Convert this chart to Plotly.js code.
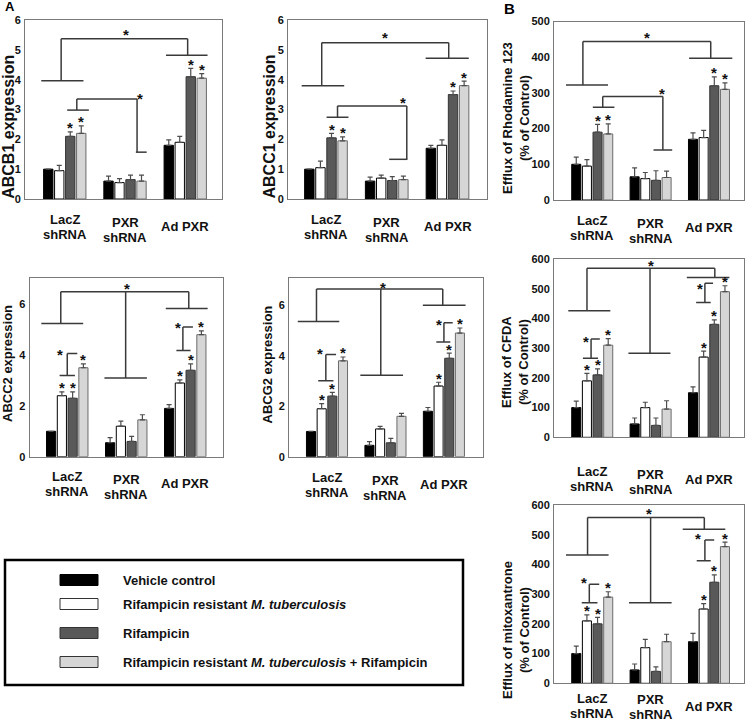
<!DOCTYPE html>
<html><head><meta charset="utf-8">
<script src="https://cdn.plot.ly/plotly-3.0.1.min.js"></script>
<style>html,body{margin:0;padding:0;background:#fff}#chart{width:745px;height:722px}</style>
</head><body><div id="chart"></div>
<script>
// ---------------- DATA ----------------
const categories = ['LacZ<br>shRNA', 'PXR<br>shRNA', 'Ad PXR'];
const seriesNames = ['Vehicle control', 'Rifampicin resistant <i>M. tuberculosis</i>', 'Rifampicin',
  'Rifampicin resistant <i>M. tuberculosis</i> + Rifampicin'];

// rows = series (vehicle, resistant Mtb, rifampicin, resistant Mtb + rifampicin), cols = categories
const abcb1Values = [[1.0, 0.6, 1.8], [0.95, 0.55, 1.9], [2.1, 0.65, 4.1], [2.2, 0.6, 4.05]];
const abcb1Errors = [[0, 0.17, 0.18], [0.18, 0.13, 0.2], [0.15, 0.15, 0.28], [0.25, 0.2, 0.15]];
const abcc1Values = [[1.0, 0.6, 1.7], [1.05, 0.7, 1.8], [2.05, 0.62, 3.5], [1.95, 0.65, 3.8]];
const abcc1Errors = [[0, 0.13, 0.1], [0.22, 0.1, 0.18], [0.15, 0.13, 0.12], [0.13, 0.12, 0.15]];
const abcc2Values = [[1.0, 0.55, 1.9], [2.4, 1.2, 2.9], [2.3, 0.6, 3.4], [3.5, 1.45, 4.8]];
const abcc2Errors = [[0, 0.2, 0.15], [0.15, 0.2, 0.12], [0.25, 0.2, 0.25], [0.15, 0.2, 0.15]];
const abcg2Values = [[1.0, 0.45, 1.8], [1.9, 1.1, 2.8], [2.4, 0.55, 3.9], [3.8, 1.6, 4.9]];
const abcg2Errors = [[0, 0.15, 0.15], [0.2, 0.1, 0.15], [0.15, 0.18, 0.2], [0.15, 0.12, 0.2]];
const rhodValues = [[100, 65, 170], [95, 60, 175], [190, 55, 320], [185, 63, 310]];
const rhodErrors = [[20, 25, 18], [18, 17, 20], [22, 27, 25], [28, 18, 18]];
const cfdaValues = [[100, 45, 150], [190, 100, 270], [210, 40, 380], [310, 95, 490]];
const cfdaErrors = [[22, 20, 20], [25, 18, 20], [20, 25, 15], [22, 28, 20]];
const mitoValues = [[100, 45, 140], [210, 120, 250], [200, 40, 340], [290, 140, 460]];
const mitoErrors = [[25, 20, 28], [20, 28, 18], [22, 15, 25], [18, 25, 15]];

// significance stars above bars: [category index, series index]
const starsTwoPairs = [[0, 2], [0, 3], [2, 2], [2, 3]];
const starsThreePairs = [[0, 1], [0, 2], [0, 3], [2, 1], [2, 2], [2, 3]];

// comparison brackets (data coordinates): top line height, drops {x, y(foot), a..b foot span}, star position
const abcb1Brackets = [
  {top: 5.37, drops: [{x: -0.06, y: 3.96, a: -0.39, b: 0.31}, {x: 2.04, y: 4.82, a: 1.68, b: 2.37}], star: [1.02, 5.6]},
  {top: 3.35, drops: [{x: 0.20, y: 2.98, a: 0.04, b: 0.40}, {x: 1.20, y: 1.57, a: 1.18, b: 1.36}], star: [1.25, 3.46]}
];
const abcc1Brackets = [
  {top: 5.24, drops: [{x: -0.07, y: 3.8, a: -0.4, b: 0.30}, {x: 2.02, y: 4.72, a: 1.64, b: 2.35}], star: [0.97, 5.52]},
  {top: 3.12, drops: [{x: 0.19, y: 2.74, a: 0.01, b: 0.37}, {x: 1.33, y: 1.33, a: 1.04, b: 1.34}], star: [1.26, 3.32]}
];
const rhodBrackets = [
  {top: 444, drops: [{x: -0.16, y: 322, a: -0.45, b: 0.27}, {x: 2.03, y: 397, a: 1.66, b: 2.40}], star: [0.93, 463]},
  {top: 290, drops: [{x: 0.18, y: 260, a: 0.01, b: 0.38}, {x: 1.21, y: 140, a: 1.05, b: 1.37}], star: [1.19, 306]}
];
const abcc2Brackets = [
  {top: 6.49, drops: [{x: -0.11, y: 5.24, a: -0.44, b: 0.27}, {x: 0.99, y: 3.10, a: 0.63, b: 1.35}, {x: 2.06, y: 5.83, a: 1.67, b: 2.38}], star: [1.01, 6.75]},
  {top: 4.06, right: 0.17, drops: [{x: 0.0, y: 3.19, a: -0.13, b: 0.13}], star: [-0.13, 4.15]},
  {top: 5.10, right: 2.13, drops: [{x: 1.96, y: 4.18, a: 1.85, b: 2.09}], star: [1.88, 5.21]}
];
const abcg2Brackets = [
  {top: 6.64, drops: [{x: -0.18, y: 5.36, a: -0.50, b: 0.21}, {x: 0.92, y: 3.23, a: 0.57, b: 1.30}, {x: 1.98, y: 6.0, a: 1.64, b: 2.37}], star: [0.95, 6.84]},
  {top: 4.05, right: 0.155, drops: [{x: -0.02, y: 3.01, a: -0.15, b: 0.11}], star: [-0.12, 4.2]},
  {top: 5.31, right: 2.15, drops: [{x: 2.0, y: 4.54, a: 1.87, b: 2.11}], star: [1.92, 5.35]}
];
const cfdaBrackets = [
  {top: 569, drops: [{x: -0.09, y: 426, a: -0.41, b: 0.31}, {x: 0.99, y: 283, a: 0.62, b: 1.34}, {x: 2.10, y: 538, a: 1.62, b: 2.35}], star: [1.0, 588]},
  {top: 331, right: 0.13, drops: [{x: -0.02, y: 266, a: -0.16, b: 0.10}], star: [-0.10, 331]},
  {top: 518, right: 2.07, drops: [{x: 1.93, y: 454, a: 1.78, b: 2.03}], star: [1.85, 512]}
];
const mitoBrackets = [
  {top: 558, drops: [{x: -0.08, y: 432, a: -0.45, b: 0.28}, {x: 1.0, y: 271, a: 0.63, b: 1.36}, {x: 1.92, y: 518, a: 1.55, b: 2.28}], star: [0.98, 583]},
  {top: 333, right: 0.12, drops: [{x: -0.05, y: 271, a: -0.18, b: 0.09}], star: [-0.14, 348]},
  {top: 482, right: 2.09, drops: [{x: 1.93, y: 412, a: 1.79, b: 2.03}], star: [1.82, 497]}
];

// ---------------- LAYOUT / STYLE ----------------
const W = 745, H = 722;
const px = v => v / W;
const py = v => 1 - v / H;
const FONT = 'Liberation Sans, Arial, Helvetica, sans-serif';
const barColors = ['#000000', '#ffffff', '#595959', '#d6d6d6'];
const barLines = ['#000000', '#000000', '#333333', '#6a6a6a'];
const bracketColor = '#3a3a3a';

const panels = [
  {title: 'ABCB1 expression', tSize: 16, tPos: [8.3, 126.5], box: [25, 222, 20, 199], xr: [-0.66, 2.61], yr: [0, 6], dt: 1,
   values: abcb1Values, errors: abcb1Errors, stars: starsTwoPairs, brackets: abcb1Brackets, ul: 8, lab: 28, pxrShift: 3},
  {title: 'ABCC1 expression', tSize: 16, tPos: [269.5, 127], box: [288, 487, 20, 199], xr: [-0.625, 2.65], yr: [0, 6], dt: 1,
   values: abcc1Values, errors: abcc1Errors, stars: starsTwoPairs, brackets: abcc1Brackets, ul: 8, lab: 28, pxrShift: 3},
  {title: 'Efflux of Rhodamine 123<br>(% of Control)', tSize: 13, tPos: [516.5, 118.5], box: [554, 744, 21.5, 200], xr: [-0.655, 2.6], yr: [0, 500], dt: 100,
   values: rhodValues, errors: rhodErrors, stars: starsTwoPairs, brackets: rhodBrackets, ul: 7, lab: 27.5, pxrShift: 3},
  {title: 'ABCC2 expression', tSize: 13, tPos: [8, 364], box: [29.5, 223, 277.5, 456.7], xr: [-0.64, 2.64], yr: [0, 7.05], dt: 2,
   values: abcc2Values, errors: abcc2Errors, stars: starsThreePairs, brackets: abcc2Brackets, ul: 6, lab: 27, pxrShift: 3},
  {title: 'ABCG2 expression', tSize: 13, tPos: [267.5, 365], box: [289, 482.5, 277.5, 456.7], xr: [-0.65, 2.66], yr: [0, 7.1], dt: 2,
   values: abcg2Values, errors: abcg2Errors, stars: starsThreePairs, brackets: abcg2Brackets, ul: 6, lab: 28, pxrShift: 3},
  {title: 'Efflux of CFDA<br>(% of Control)', tSize: 13, tPos: [515, 362], box: [554, 744, 259, 437.3], xr: [-0.655, 2.6], yr: [0, 600], dt: 100,
   values: cfdaValues, errors: cfdaErrors, stars: starsThreePairs, brackets: cfdaBrackets, ul: 13, lab: 42, pxrShift: 3},
  {title: 'Efflux of mitoxantrone<br>(% of Control)', tSize: 13, tPos: [516, 630], box: [554, 744, 505, 683.3], xr: [-0.655, 2.6], yr: [0, 600], dt: 100,
   values: mitoValues, errors: mitoErrors, stars: starsThreePairs, brackets: mitoBrackets, ul: 6, lab: 23, pxrShift: 1}
];

const GROUP_W = 0.73;
const slot = GROUP_W / 4;
const catX = categories.map((c, i) => i);
const LINE_GAP = 15;

const traces = [];
const shapes = [];
const annotations = [];
const layout = {
  width: W, height: H, margin: {l: 0, r: 0, t: 0, b: 0},
  paper_bgcolor: '#ffffff', plot_bgcolor: '#ffffff',
  font: {family: FONT, size: 13, color: '#111111', weight: 'bold'},
  barmode: 'group', bargap: 0.27, bargroupgap: 0.15,
  showlegend: false
};

panels.forEach((p, k) => {
  const n = k + 1;
  const xa = 'x' + (n === 1 ? '' : n), ya = 'y' + (n === 1 ? '' : n);
  const xKey = 'xaxis' + (n === 1 ? '' : n), yKey = 'yaxis' + (n === 1 ? '' : n);
  const ticks = [];
  for (let t = p.yr[0]; t <= p.yr[1] + 1e-9; t += p.dt) ticks.push(t);
  layout[xKey] = {domain: [px(p.box[0]), px(p.box[1])], range: p.xr, anchor: ya,
    showline: true, mirror: true, linecolor: '#7a7a7a', linewidth: 1, ticks: '', showticklabels: false,
    showgrid: false, zeroline: false, fixedrange: true};
  layout[yKey] = {domain: [py(p.box[3]), py(p.box[2])], range: p.yr, anchor: xa,
    showline: true, mirror: true, linecolor: '#7a7a7a', linewidth: 1, ticks: '', tickvals: ticks,
    tickfont: {family: FONT, size: 11, color: '#111111', weight: 'bold'}, ticklabelstandoff: 1,
    showgrid: false, zeroline: false, fixedrange: true};

  // bars
  for (let s = 0; s < 4; s++) {
    traces.push({type: 'bar', x: catX, y: p.values[s], name: seriesNames[s], xaxis: xa, yaxis: ya,
      marker: {color: barColors[s], line: {color: barLines[s], width: 1}},
      error_y: {type: 'data', symmetric: false, array: p.errors[s], arrayminus: [0, 0, 0],
        color: '#4d4d4d', thickness: 1.2, width: 2.5},
      hoverinfo: 'skip', showlegend: false});
  }
  // stars above bars
  p.stars.forEach(([c, s]) => {
    annotations.push({xref: xa, yref: ya, x: c + (s - 1.5) * slot, y: p.values[s][c] + p.errors[s][c],
      text: '*', showarrow: false, yanchor: 'middle', yshift: 4, font: {size: 15, color: '#111'}});
  });
  // brackets
  p.brackets.forEach(b => {
    const xs = b.drops.map(d => d.x);
    const left = Math.min(...xs);
    const right = b.right !== undefined ? b.right : Math.max(...xs);
    const line = {color: bracketColor, width: 1.5};
    shapes.push({type: 'line', xref: xa, yref: ya, x0: left, x1: right, y0: b.top, y1: b.top, line});
    b.drops.forEach(d => {
      shapes.push({type: 'line', xref: xa, yref: ya, x0: d.x, x1: d.x, y0: b.top, y1: d.y, line});
      shapes.push({type: 'line', xref: xa, yref: ya, x0: d.a, x1: d.b, y0: d.y, y1: d.y, line});
    });
    annotations.push({xref: xa, yref: ya, x: b.star[0], y: b.star[1], text: '*', showarrow: false,
      yanchor: 'middle', yshift: -3, font: {size: 15, color: '#111'}});
  });
  // category underlines and labels (each label line placed separately for tight line spacing)
  catX.forEach((c, i) => {
    shapes.push({type: 'line', xref: xa, yref: ya, ysizemode: 'pixel', yanchor: 0, x0: c - 0.3, x1: c + 0.3,
      y0: -p.ul, y1: -p.ul, line: {color: '#000', width: 4}});
    const lines = categories[i].split('<br>');
    const center = p.lab + (i === 1 ? p.pxrShift : 0);
    lines.forEach((ln, j) => {
      const off = center + (j - (lines.length - 1) / 2) * LINE_GAP;
      annotations.push({xref: xa, yref: ya, x: c, y: 0, text: ln, showarrow: false,
        yanchor: 'middle', yshift: -off, font: {size: 13, color: '#111'}});
    });
  });
  // y-axis title
  annotations.push({xref: 'paper', yref: 'paper', x: px(p.tPos[0]), y: py(p.tPos[1]), xanchor: 'center', yanchor: 'middle',
    text: p.title, textangle: -90, showarrow: false, font: {size: p.tSize, color: '#111'}});
});

// panel letters
annotations.push({xref: 'paper', yref: 'paper', x: px(10), y: py(6), text: 'A', showarrow: false,
  xanchor: 'center', yanchor: 'middle', font: {size: 13, color: '#000'}});
annotations.push({xref: 'paper', yref: 'paper', x: px(509), y: py(9), text: 'B', showarrow: false,
  xanchor: 'center', yanchor: 'middle', font: {size: 15, color: '#000'}});

// legend box (drawn manually to match the framed legend)
shapes.push({type: 'rect', xref: 'paper', yref: 'paper', x0: px(5), x1: px(463), y0: py(685), y1: py(560),
  line: {color: '#000', width: 2.5}, fillcolor: 'rgba(0,0,0,0)'});
const legendRows = [580, 604, 633, 662];
seriesNames.forEach((name, s) => {
  const yc = legendRows[s];
  shapes.push({type: 'rect', xref: 'paper', yref: 'paper', x0: px(60), x1: px(98), y0: py(yc + 5.5), y1: py(yc - 5.5),
    line: {color: s === 0 ? '#000' : '#333', width: 1}, fillcolor: barColors[s]});
  annotations.push({xref: 'paper', yref: 'paper', x: px(121), y: py(yc), xanchor: 'left', yanchor: 'middle',
    text: name, showarrow: false, font: {size: 13, color: '#111'}});
});
layout.shapes = shapes;
layout.annotations = annotations;

Plotly.newPlot('chart', traces, layout, {staticPlot: true, displayModeBar: false});
</script>
</body></html>
